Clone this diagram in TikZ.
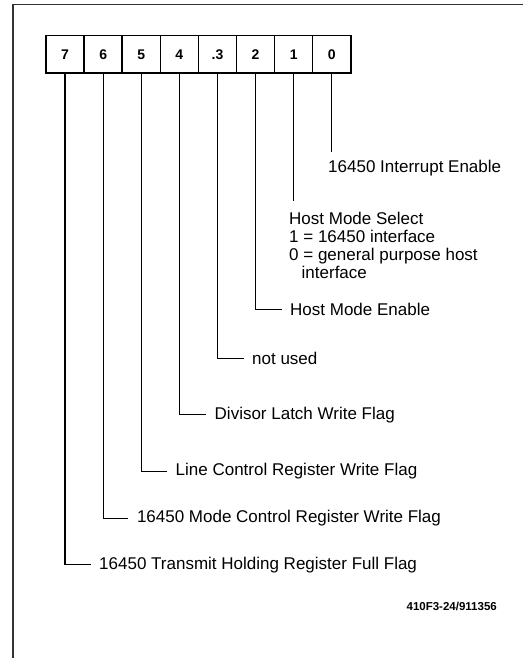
\documentclass[tikz,border=0pt]{standalone}
\usepackage{fontspec}
\setmainfont{Liberation Sans}
\usetikzlibrary{positioning}

\tikzset{
  bitbox/.style={draw,line width=1.5pt,minimum width=38.1pt,minimum height=37.5pt,
    inner sep=0pt,outer sep=0pt,text height=10pt,text depth=0pt,
    font=\fontsize{14}{16}\selectfont\bfseries},
  flag/.style={anchor=base west,inner xsep=8.5pt,inner ysep=0pt,yshift=-5.9pt,
    font=\fontsize{17}{18}\selectfont},
  leader/.style={line width=1.3pt}
}

\begin{document}
\begin{tikzpicture}[x=1pt,y=-1pt]
            \useasboundingbox (0,0) rectangle (523,658);
            % frame, only top and left edges show
            \draw[line width=1.6pt,black!80] (12.7,658) -- (12.7,4.7) -- (523,4.7);
            % register bits
            \node[bitbox,anchor=north west] (b7) at (46,35.5) {7};
            \node[bitbox,right=0pt of b7] (b6) {6};
            \node[bitbox,right=0pt of b6] (b5) {5};
            \node[bitbox,right=0pt of b5] (b4) {4};
            \node[bitbox,right=0pt of b4] (b3) {.3};
            \node[bitbox,right=0pt of b3] (b2) {2};
            \node[bitbox,right=0pt of b2] (b1) {1};
            \node[bitbox,right=0pt of b1] (b0) {0};
            % descriptions
            \node[flag,inner xsep=0pt] (l0) at (328,166.7) {16450 Interrupt Enable};
            \node[anchor=north west,inner sep=0pt,align=left,
              font=\fontsize{17}{18}\selectfont] (l1) at (289,211.5) {Host Mode Select\\
              1 = 16450 interface\\0 = general purpose host\\\hspace*{12.5pt}interface};
            \node[flag] (l2) at (281.5,310) {Host Mode Enable};
            \node[flag] (l3) at (243.5,358.3) {not used};
            \node[flag] (l4) at (206,413.3) {Divisor Latch Write Flag};
            \node[flag] (l5) at (167,470) {Line Control Register Write Flag};
            \node[flag] (l6) at (128.3,516.7) {16450 Mode Control Register Write Flag};
            \node[flag] (l7) at (90.5,563.3) {16450 Transmit Holding Register Full Flag};
            \coordinate (e0) at (331.7,151.7);
            \coordinate (e1) at (293.3,200.7);
            % leaders
            \draw[leader] (b0.south) -- (b0.south |- e0);
            \draw[leader] (b1.south) -- (b1.south |- e1);
            \draw[leader] (b2.south) |- (l2.west);
            \draw[line width=0.9pt] (b3.south) |- (l3.west);
            \draw[leader] (b4.south) |- (l4.west);
            \draw[leader] (b5.south) |- (l5.west);
            \draw[leader] (b6.south) |- (l6.west);
            \draw[leader] (b7.south) |- (l7.west);
            \node[anchor=base east,inner sep=0pt,font=\fontsize{11.5}{13}\selectfont\bfseries]
              (fig) at (497,610) {410F3-24/911356};
        \end{tikzpicture}
\end{document}
